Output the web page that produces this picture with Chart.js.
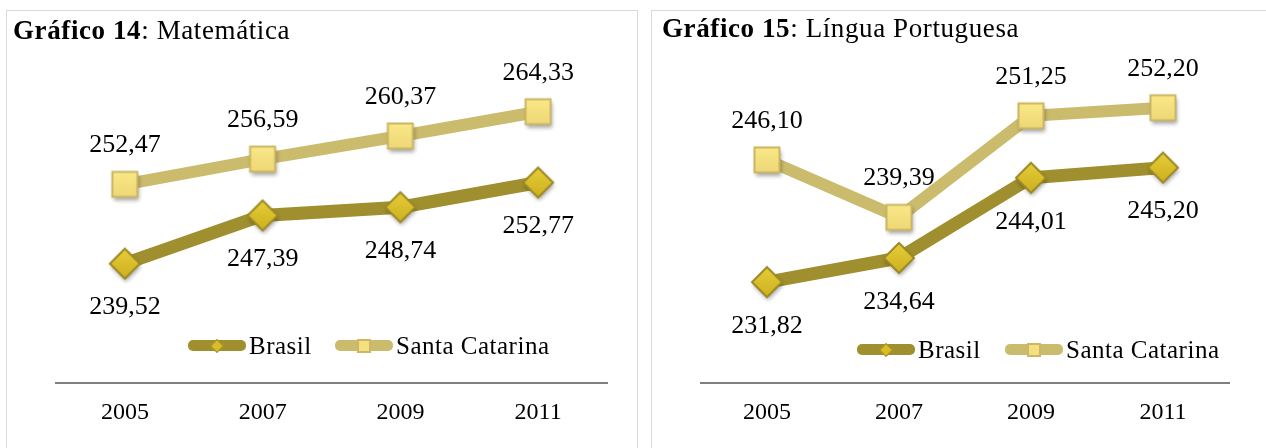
<!DOCTYPE html>
<html>
<head>
<meta charset="utf-8">
<script src="https://cdn.jsdelivr.net/npm/chart.js@4.4.1/dist/chart.umd.min.js"></script>
<style>
body{margin:0;background:#fff;width:1266px;height:448px;overflow:hidden;position:relative;font-family:"Liberation Serif",serif;color:#000;}
.painel{position:absolute;top:10px;border:1px solid #d9d9d9;height:470px;}
.titulo{position:absolute;font-size:27px;line-height:27px;letter-spacing:0.6px;white-space:nowrap;}
canvas{position:absolute;top:0;}
.item{position:absolute;display:flex;align-items:center;height:25px;font-size:25px;line-height:25px;letter-spacing:0.5px;white-space:nowrap;}
.icone{position:relative;width:58px;height:11px;border-radius:5px;margin-right:3px;}
.icone span{position:absolute;left:50%;top:50%;box-sizing:border-box;}
.diamante{width:10px;height:10px;margin:-5px 0 0 -5px;transform:rotate(45deg);background:#d8bc28;border:1px solid #9c8a26;}
.quadrado{width:14px;height:14px;margin:-7px 0 0 -7px;background:#f4e07e;border:2px solid #cbb766;}
</style>
</head>
<body>
<div class="painel" style="left:6px;width:630px;"></div>
<div class="painel" style="left:651px;width:700px;"></div>

<canvas id="graf14" width="640" height="448" style="left:0;"></canvas>
<canvas id="graf15" width="626" height="448" style="left:640px;"></canvas>

<div class="titulo" style="left:13px;top:17px;"><b>Gráfico 14</b>: Matemática</div>
<div class="titulo" style="left:662px;top:15px;"><b>Gráfico 15</b>: Língua Portuguesa</div>

<div class="item" style="left:188px;top:333px;"><div class="icone" style="background:#a08f2e;"><span class="diamante"></span></div>Brasil</div>
<div class="item" style="left:335px;top:333px;"><div class="icone" style="background:#cbbb6c;"><span class="quadrado"></span></div>Santa Catarina</div>
<div class="item" style="left:857px;top:337px;"><div class="icone" style="background:#a08f2e;"><span class="diamante"></span></div>Brasil</div>
<div class="item" style="left:1005px;top:337px;"><div class="icone" style="background:#cbbb6c;"><span class="quadrado"></span></div>Santa Catarina</div>

<script>
// dados
const anos = ['2005', '2007', '2009', '2011'];
const brasilMat = [239.52, 247.39, 248.74, 252.77];
const scMat = [252.47, 256.59, 260.37, 264.33];
const brasilPort = [231.82, 234.64, 244.01, 245.20];
const scPort = [246.10, 239.39, 251.25, 252.20];

function formato(v) {
    return v.toFixed(2).replace('.', ',');
}

// marcador com gradiente e sombra (imagem usada como pointStyle)
function marcador(tipo) {
    const c = document.createElement('canvas');
    c.width = 48;
    c.height = 48;
    const g = c.getContext('2d');
    const m = 24;
    g.beginPath();
    let grad;
    if (tipo === 'diamante') {
        g.moveTo(m, m - 15);
        g.lineTo(m + 15, m);
        g.lineTo(m, m + 15);
        g.lineTo(m - 15, m);
        g.closePath();
        grad = g.createLinearGradient(0, m - 15, 0, m + 15);
        grad.addColorStop(0, '#e6cd3a');
        grad.addColorStop(1, '#cdb01e');
    } else {
        g.rect(m - 12.5, m - 12.5, 25, 25);
        grad = g.createLinearGradient(0, m - 12.5, 0, m + 12.5);
        grad.addColorStop(0, '#fae886');
        grad.addColorStop(1, '#eed777');
    }
    g.save();
    g.shadowColor = 'rgba(0,0,0,0.35)';
    g.shadowBlur = 4;
    g.shadowOffsetX = 1;
    g.shadowOffsetY = 3;
    g.fillStyle = grad;
    g.fill();
    g.restore();
    g.lineWidth = 2;
    g.lineJoin = 'miter';
    g.strokeStyle = tipo === 'diamante' ? '#9c8a26' : '#cab665';
    g.stroke();
    return c;
}
const imgDiamante = marcador('diamante');
const imgQuadrado = marcador('quadrado');

// rotulos de valor: Santa Catarina em cima, Brasil embaixo
const rotulos = {
    id: 'rotulos',
    afterDatasetsDraw(chart) {
        const ctx = chart.ctx;
        ctx.save();
        ctx.font = '26px "Liberation Serif"';
        ctx.fillStyle = '#000';
        ctx.textAlign = 'center';
        ctx.textBaseline = 'middle';
        chart.data.datasets.forEach(function (ds, i) {
            const meta = chart.getDatasetMeta(i);
            meta.data.forEach(function (pt, j) {
                const dy = ds.rotulo === 'baixo' ? 44 : -39;
                ctx.fillText(formato(ds.data[j]), pt.x, pt.y + dy);
            });
        });
        ctx.restore();
    }
};

function grafico(id, brasil, sc, yMax, pad) {
    return new Chart(document.getElementById(id), {
        type: 'line',
        data: {
            labels: anos,
            datasets: [{
                label: 'Brasil',
                data: brasil,
                rotulo: 'baixo',
                borderColor: '#a08f2e',
                borderWidth: 13,
                tension: 0,
                pointStyle: imgDiamante,
                pointRadius: 15
            }, {
                label: 'Santa Catarina',
                data: sc,
                rotulo: 'cima',
                borderColor: '#cbbb6c',
                borderWidth: 12,
                tension: 0,
                pointStyle: imgQuadrado,
                pointRadius: 18
            }]
        },
        options: {
            responsive: false,
            animation: false,
            layout: {padding: pad},
            plugins: {
                legend: {display: false},
                tooltip: {enabled: false}
            },
            scales: {
                x: {
                    offset: true,
                    grid: {display: false, drawTicks: false},
                    border: {display: true, color: '#7f7f7f', width: 2},
                    ticks: {color: '#000', font: {family: 'Liberation Serif', size: 24}, padding: 15}
                },
                y: {display: false, min: 220, max: yMax}
            }
        },
        plugins: [rotulos]
    });
}

grafico('graf14', brasilMat, scMat, 270, {left: 56, right: 33, top: 77, bottom: 6});
grafico('graf15', brasilPort, scPort, 260, {left: 61, right: 37, top: 41, bottom: 6});
</script>
</body>
</html>
